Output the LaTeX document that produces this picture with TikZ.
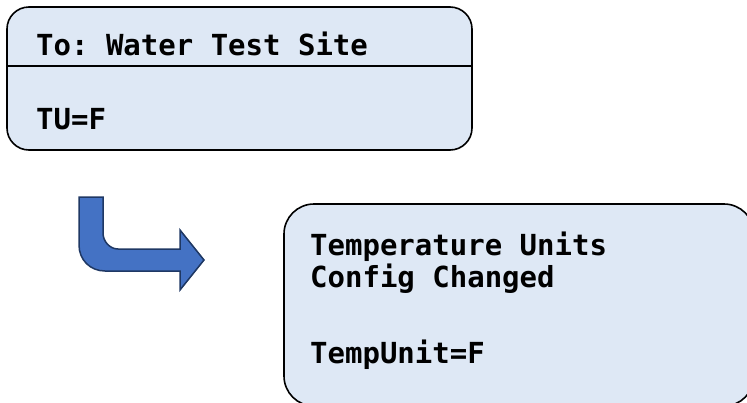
\documentclass[tikz,border=0pt]{standalone}
\usepackage{fontspec}
\setmonofont{DejaVu Sans Mono}
\definecolor{boxfill}{HTML}{DEE8F5}
\definecolor{arrowfill}{HTML}{4472C4}
\definecolor{arrowline}{HTML}{1F3864}
\begin{document}
\begin{tikzpicture}[x=1pt,y=-1pt,
  card/.style={draw=black, line width=1.6pt, fill=boxfill},
  label/.style={anchor=base west, inner sep=0pt, font=\ttfamily\bfseries\fontsize{29}{32}\selectfont}]
\useasboundingbox (0,0) rectangle (747,402);
\clip (0,0) rectangle (747,402);
% top box
\draw[card, rounded corners=22pt] (7,7) rectangle (472,150);
\coordinate (divL) at (7,66);
\coordinate (divR) at (472,66);
\draw[line width=1.4pt] (divL) -- (divR);
\node[label] (to) at (36,55) {To: Water Test Site};
\node[label] (tu) at (36,129) {TU=F};
% bottom box
\draw[card, rounded corners=30pt] (284,204) rectangle (754,406);
\node[label] (t1) at (310,255) {Temperature Units};
\node[label] (t2) at (310,287) {Config Changed};
\node[label] (t3) at (310,363) {TempUnit=F};
% bent arrow
\draw[line width=1.5pt, draw=arrowline, fill=arrowfill, line join=miter]
  (79,197) -- (103,197) -- (103,233)
  .. controls (103,241.3) and (109.7,249) .. (118,249)
  -- (180,249) -- (180,230) -- (204,260) -- (180,290) -- (180,271)
  -- (105,271)
  .. controls (90.2,271) and (79,259.8) .. (79,245)
  -- cycle;
\end{tikzpicture}
\end{document}
